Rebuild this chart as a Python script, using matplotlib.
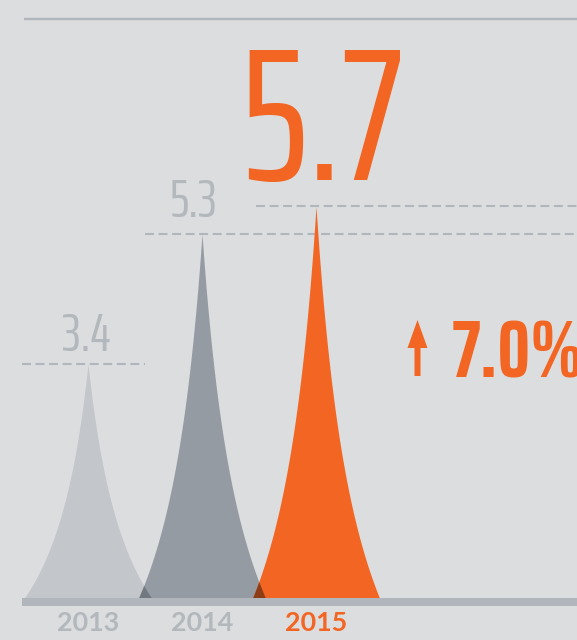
import numpy as np
import matplotlib
matplotlib.use("Agg")
import matplotlib.pyplot as plt
from matplotlib.colors import to_rgb
from matplotlib.patches import FancyArrow
from matplotlib.transforms import IdentityTransform

# ---- data ----
years = ["2013", "2014", "2015"]
values = [3.4, 5.3, 5.7]
change_pct = 7.0

# ---- style ----
BG = "#dcdddf"
spike_colors = ["#c3c6ca", "#959ba2", "#f26522"]
label_colors = ["#b3b8bd", "#b3b8bd", "#f26522"]
year_colors = ["#b3b8bd", "#b3b8bd", "#f26522"]
RULE = "#b1b6bc"
ORANGE = "#f26522"
NUMFONT = ["Saira ExtraCondensed", "DejaVu Sans"]
YEARFONT = ["Lato", "DejaVu Sans"]

W, H = 577, 640
fig = plt.figure(figsize=(W / 100, H / 100), dpi=100, facecolor=BG)
ax = fig.add_axes([0, 0, 1, 1])
ax.set_facecolor(BG)
ax.axis("off")

PX_X = 114.0   # pixels per category step
X0 = 88.0      # pixel x of first category
PX_Y = 68.6    # pixels per value unit
Y0 = 597.5     # pixel y of value 0
ax.set_xlim(-X0 / PX_X, (W - X0) / PX_X)
ax.set_ylim(-(H - Y0) / PX_Y, Y0 / PX_Y)
xl, xr = ax.get_xlim()
left_edge = (22 - X0) / PX_X

half = 0.555
cshape = 1.5


def profile(xc, v, x):
    uu = np.clip(np.abs(x - xc) / half, 0, 1)
    return v * (1 - uu) / (1 + cshape * uu)


# dashed reference lines (behind the spikes)
dash_ranges = [(left_edge, 0.5), (0.5, xr), (1.47, xr)]
for (a, b), v in zip(dash_ranges, values):
    ax.plot([a, b], [v, v], color=RULE, lw=1.5, linestyle=(0, (4.3, 2.2)),
            solid_capstyle="butt", dash_capstyle="butt", zorder=1)

# spikes
for i, (v, col) in enumerate(zip(values, spike_colors)):
    x = np.linspace(i - half, i + half, 1201)
    ax.fill_between(x, 0, profile(i, v, x), color=col, lw=0, zorder=2)

# overlap regions (multiply blend)
for i in range(len(values) - 1):
    lo, hi = (i + 1) - half, i + half
    if hi > lo:
        x = np.linspace(lo, hi, 200)
        y = np.minimum(profile(i, values[i], x), profile(i + 1, values[i + 1], x))
        mc = tuple(p * q for p, q in zip(to_rgb(spike_colors[i]), to_rgb(spike_colors[i + 1])))
        ax.fill_between(x, 0, y, color=mc, lw=0, zorder=3)

# top rule and base bar
top_v = (Y0 - 19) / PX_Y
ax.plot([(24 - X0) / PX_X, xr], [top_v, top_v], color=RULE, lw=1.7,
        solid_capstyle="butt", zorder=1)
ax.fill_between([left_edge, xr], -8 / PX_Y, 0, color=RULE, lw=0, zorder=4)

# value labels
label_sizes = [39, 39, 136]
label_offsets = [(-1.0, 9.8), (-5.8, 12.2), (4.5, 19.0)]
for i, (v, col, fs, off) in enumerate(zip(values, label_colors, label_sizes, label_offsets)):
    ax.annotate(f"{v:.1f}", xy=(i, v), xytext=off, textcoords="offset points",
                ha="center", va="baseline", fontsize=fs, color=col,
                family=NUMFONT, fontweight="normal", zorder=5)

# year labels
for i, (yr, col) in enumerate(zip(years, year_colors)):
    ax.annotate(yr, xy=(i, 0), xytext=(0, -24.1), textcoords="offset points",
                ha="center", va="baseline", fontsize=19.4, color=col,
                family=YEARFONT, fontweight="bold", zorder=5)

# change indicator
fig.text(451.7 / W, 1 - 377.7 / H, f"{change_pct:.1f}%", ha="left", va="baseline",
         fontsize=58.6, color=ORANGE, family=NUMFONT, fontweight="bold")
arrow = FancyArrow(417.5, H - 376, 0, 56, width=6, head_width=20, head_length=28,
                   length_includes_head=True, transform=IdentityTransform(),
                   color=ORANGE, lw=0)
fig.add_artist(arrow)

fig.savefig("out.png", dpi=100, facecolor=BG)
